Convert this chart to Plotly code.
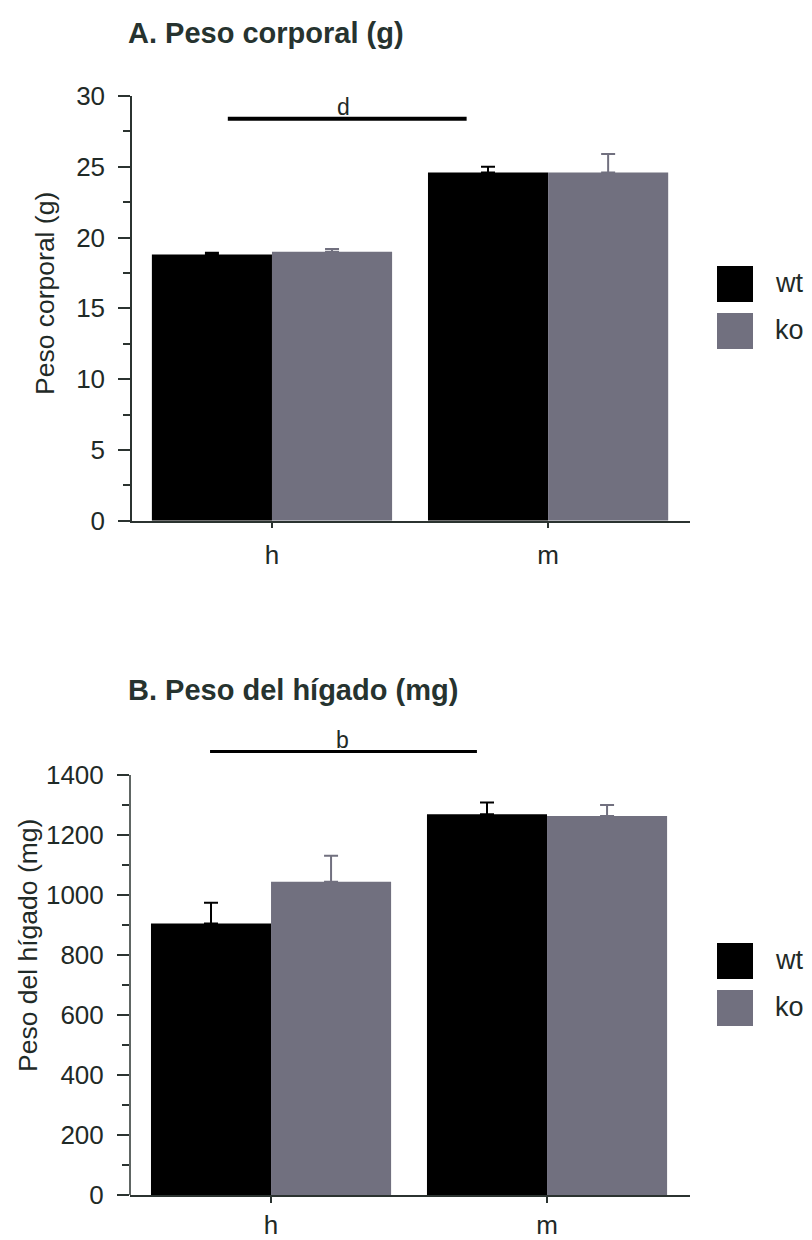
import plotly.graph_objects as go

# ---------------- data ----------------
categories = ["h", "m"]
series = ["wt", "ko"]

# Panel A: Peso corporal (g)
wt_A = [18.8, 24.6]
wt_A_err = [0.13, 0.4]
ko_A = [19.0, 24.6]
ko_A_err = [0.2, 1.3]
sig_A_level = 28.4
sig_A_letter = "d"

# Panel B: Peso del hígado (mg)
wt_B = [905, 1269]
wt_B_err = [69, 39]
ko_B = [1044, 1263]
ko_B_err = [87, 37]
sig_B_level = 1478
sig_B_letter = "b"

yticks_A = [0, 5, 10, 15, 20, 25, 30]
yminor_A = [2.5, 7.5, 12.5, 17.5, 22.5, 27.5]
yticks_B = [0, 200, 400, 600, 800, 1000, 1200, 1400]
yminor_B = [100, 300, 500, 700, 900, 1100, 1300]

# ---------------- style ----------------
W, H = 812, 1240
OX, OY = -8, -8   # compensate page body margin
FONT = "Liberation Sans, Arial, Helvetica, sans-serif"
DARK = "#1f2a27"
AXC = "#2b3330"
C_WT = "#000000"
C_KO = "#71707f"
colors = {"wt": C_WT, "ko": C_KO}


def px_x(p):
    return (p + OX) / W


def px_y(p):
    return 1 - (p + OY) / H


fig = go.Figure()

panels = [
    ("x", "y", wt_A, wt_A_err, ko_A, ko_A_err),
    ("x2", "y2", wt_B, wt_B_err, ko_B, ko_B_err),
]
for xa, ya, wv, we, kv, ke in panels:
    for name, vals, errs in (("wt", wv, we), ("ko", kv, ke)):
        fig.add_trace(go.Bar(
            x=categories, y=vals, name=name, xaxis=xa, yaxis=ya,
            marker=dict(color=colors[name], line=dict(width=0)),
            error_y=dict(type="data", array=errs, arrayminus=[0] * len(errs),
                         symmetric=False, color=colors[name], thickness=2, width=7),
            showlegend=False,
        ))

axis_common = dict(showgrid=False, zeroline=False, linecolor=AXC, linewidth=1.5,
                   tickcolor=AXC, tickwidth=1.5, automargin=False,
                   tickfont=dict(family=FONT, size=26, color=DARK))

fig.update_layout(
    width=W, height=H,
    margin=dict(l=0, r=0, t=0, b=0, pad=0, autoexpand=False),
    paper_bgcolor="white", plot_bgcolor="white",
    barmode="group", bargap=0.13, bargroupgap=0,
    showlegend=False,
    xaxis=dict(domain=[px_x(132), px_x(690)], range=[-0.507, 1.514], anchor="y",
               showline=True, ticks="outside", ticklen=6, ticklabelstandoff=4,
               **axis_common),
    yaxis=dict(domain=[px_y(520.7), px_y(96)], range=[0, 30], anchor="x",
               showline=True, ticks="outside", ticklen=12, tickvals=yticks_A,
               ticklabelstandoff=8,
               minor=dict(tickvals=yminor_A, ticks="outside", ticklen=7,
                          tickcolor=AXC, tickwidth=1.5),
               **axis_common),
    xaxis2=dict(domain=[px_x(130), px_x(690)], range=[-0.511, 1.518], anchor="y2",
                showline=True, ticks="outside", ticklen=6, ticklabelstandoff=0,
                **axis_common),
    yaxis2=dict(domain=[px_y(1195), px_y(745)], range=[0, 1500], anchor="x2",
                showline=False, ticks="outside", ticklen=12, tickvals=yticks_B,
                ticklabelstandoff=8,
                minor=dict(tickvals=yminor_B, ticks="outside", ticklen=7,
                           tickcolor=AXC, tickwidth=1.5),
                **axis_common),
)

# y-axis line for panel B only up to the last tick
fig.add_shape(type="line", xref="x2 domain", yref="y2", x0=0, x1=0,
              y0=yticks_B[0], y1=yticks_B[-1], line=dict(color=AXC, width=1.5))

# significance bars
fig.add_shape(type="line", xref="x", yref="y", x0=-0.16, x1=0.705,
              y0=sig_A_level, y1=sig_A_level, line=dict(color="#000", width=4))
fig.add_annotation(x=0.26, y=sig_A_level, xref="x", yref="y", text=sig_A_letter,
                   showarrow=False, yanchor="bottom", yshift=-3,
                   font=dict(family=FONT, size=23, color=DARK))
fig.add_shape(type="line", xref="x2", yref="y2", x0=-0.221, x1=0.746,
              y0=sig_B_level, y1=sig_B_level, line=dict(color="#000", width=3))
fig.add_annotation(x=0.26, y=sig_B_level, xref="x2", yref="y2", text=sig_B_letter,
                   showarrow=False, yanchor="bottom", yshift=-3,
                   font=dict(family=FONT, size=23, color=DARK))

# panel titles
fig.add_annotation(x=px_x(126), y=px_y(33), xref="paper", yref="paper",
                   text="<b>A. Peso corporal (g)</b>", showarrow=False,
                   xanchor="left", yanchor="middle",
                   font=dict(family=FONT, size=29, color="#26332f"))
fig.add_annotation(x=px_x(126), y=px_y(690), xref="paper", yref="paper",
                   text="<b>B. Peso del hígado (mg)</b>", showarrow=False,
                   xanchor="left", yanchor="middle",
                   font=dict(family=FONT, size=29, color="#26332f"))

# y-axis titles
fig.add_annotation(x=px_x(45), y=px_y(294), xref="paper", yref="paper",
                   text="Peso corporal (g)", showarrow=False, textangle=-90,
                   xanchor="center", yanchor="middle",
                   font=dict(family=FONT, size=26.5, color=DARK))
fig.add_annotation(x=px_x(28), y=px_y(946), xref="paper", yref="paper",
                   text="Peso del hígado (mg)", showarrow=False, textangle=-90,
                   xanchor="center", yanchor="middle",
                   font=dict(family=FONT, size=26.5, color=DARK))

# legends (one per panel)
for top in (266, 943):
    for i, name in enumerate(series):
        y0 = top + i * 47
        fig.add_shape(type="rect", xref="paper", yref="paper",
                      x0=px_x(717), x1=px_x(753), y0=px_y(y0 + 36), y1=px_y(y0),
                      fillcolor=colors[name], line=dict(width=0))
        fig.add_annotation(x=px_x(773), y=px_y(y0 + 17), xref="paper", yref="paper",
                           text=name, showarrow=False, xanchor="left", yanchor="middle",
                           font=dict(family=FONT, size=27, color=DARK))

fig.write_html("out.html")
